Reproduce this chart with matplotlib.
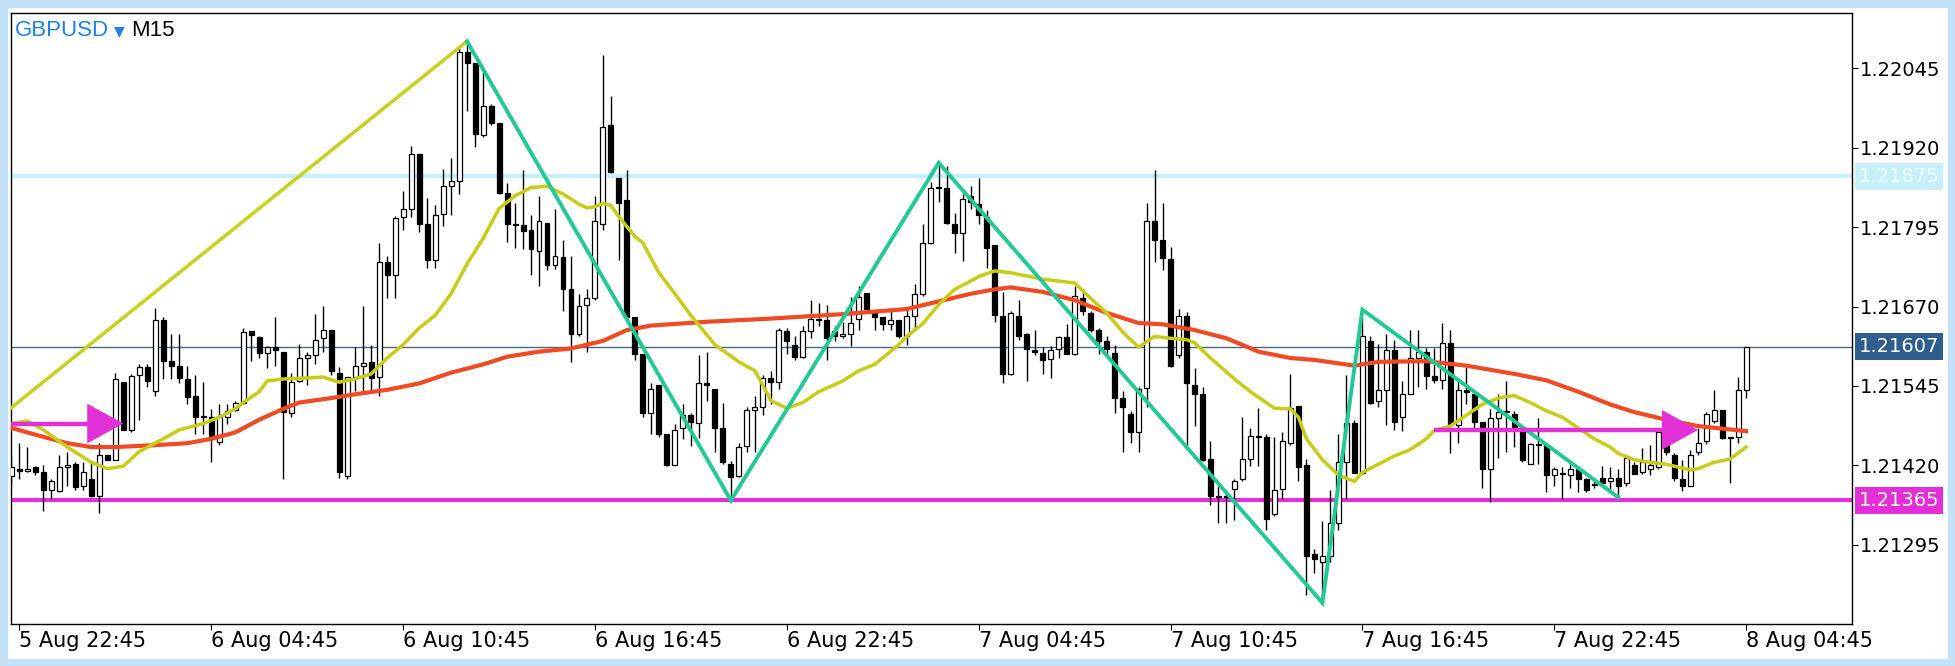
import numpy as np
import pandas as pd
import matplotlib
matplotlib.use("Agg")
import matplotlib.pyplot as plt
import matplotlib.transforms as mtransforms
from matplotlib.patches import Rectangle

# GBPUSD M15 bars, first bar 5 Aug 22:30
start = "2019-08-05 22:30"

opens = [1.21403, 1.21415, 1.21411, 1.21417, 1.21409, 1.21382, 1.21380, 1.21418, 1.21423, 1.21387, 1.21398, 1.21372,
         1.21437, 1.21429, 1.21551, 1.21476, 1.21563, 1.21575, 1.21537, 1.21648, 1.21584, 1.21577, 1.21556, 1.21529,
         1.21497, 1.21496, 1.21457, 1.21497, 1.21507, 1.21519, 1.21631, 1.21622, 1.21597, 1.21607, 1.21599, 1.21502,
         1.21553, 1.21589, 1.21593, 1.21620, 1.21633, 1.21566, 1.21403, 1.21559, 1.21577, 1.21583, 1.21559, 1.21740,
         1.21720, 1.21810, 1.21824, 1.21910, 1.21800, 1.21743, 1.21816, 1.21859, 1.21867, 1.22070, 1.22053, 1.21939,
         1.21986, 1.21959, 1.21849, 1.21800, 1.21798, 1.21790, 1.21757, 1.21802, 1.21735, 1.21748, 1.21698, 1.21626,
         1.21673, 1.21684, 1.21800, 1.21956, 1.21872, 1.21837, 1.21653, 1.21596, 1.21502, 1.21546, 1.21469, 1.21421,
         1.21479, 1.21499, 1.21487, 1.21549, 1.21541, 1.21479, 1.21422, 1.21403, 1.21450, 1.21508, 1.21512, 1.21557,
         1.21551, 1.21631, 1.21610, 1.21591, 1.21631, 1.21650, 1.21649, 1.21631, 1.21623, 1.21626, 1.21651, 1.21691,
         1.21662, 1.21653, 1.21642, 1.21648, 1.21623, 1.21655, 1.21689, 1.21770, 1.21856, 1.21857, 1.21800, 1.21785,
         1.21843, 1.21831, 1.21810, 1.21767, 1.21655, 1.21564, 1.21655, 1.21626, 1.21601, 1.21597, 1.21588, 1.21603,
         1.21622, 1.21596, 1.21684, 1.21660, 1.21633, 1.21616, 1.21597, 1.21526, 1.21501, 1.21472, 1.21542, 1.21805,
         1.21774, 1.21744, 1.21593, 1.21655, 1.21546, 1.21532, 1.21430, 1.21372, 1.21370, 1.21383, 1.21398, 1.21430,
         1.21467, 1.21465, 1.21343, 1.21383, 1.21455, 1.21514, 1.21421, 1.21281, 1.21269, 1.21278, 1.21329, 1.21425,
         1.21487, 1.21408, 1.21616, 1.21521, 1.21539, 1.21601, 1.21496, 1.21532, 1.21589, 1.21599, 1.21561, 1.21554,
         1.21613, 1.21484, 1.21539, 1.21532, 1.21488, 1.21415, 1.21494, 1.21504, 1.21501, 1.21481, 1.21423, 1.21454,
         1.21452, 1.21405, 1.21407, 1.21405, 1.21414, 1.21398, 1.21391, 1.21400, 1.21395, 1.21400, 1.21392, 1.21421,
         1.21410, 1.21415, 1.21417, 1.21472, 1.21437, 1.21398, 1.21388, 1.21441, 1.21459, 1.21490, 1.21508, 1.21463,
         1.21465, 1.21539]
highs = [1.21437, 1.21455, 1.21449, 1.21419, 1.21421, 1.21398, 1.21437, 1.21442, 1.21425, 1.21425, 1.21425, 1.21455,
         1.21437, 1.21566, 1.21551, 1.21564, 1.21579, 1.21579, 1.21668, 1.21653, 1.21626, 1.21626, 1.21576, 1.21563,
         1.21551, 1.21509, 1.21516, 1.21516, 1.21522, 1.21636, 1.21632, 1.21623, 1.21608, 1.21653, 1.21599, 1.21566,
         1.21611, 1.21599, 1.21658, 1.21671, 1.21633, 1.21575, 1.21559, 1.21606, 1.21671, 1.21610, 1.21770, 1.21750,
         1.21812, 1.21852, 1.21922, 1.21910, 1.21841, 1.21829, 1.21886, 1.21903, 1.22078, 1.22085, 1.22053, 1.22042,
         1.21988, 1.21959, 1.21864, 1.21832, 1.21884, 1.21814, 1.21843, 1.21802, 1.21824, 1.21774, 1.21750, 1.21690,
         1.21697, 1.21844, 1.22066, 1.22001, 1.21872, 1.21884, 1.21653, 1.21596, 1.21549, 1.21546, 1.21470, 1.21486,
         1.21516, 1.21502, 1.21593, 1.21599, 1.21541, 1.21519, 1.21427, 1.21455, 1.21512, 1.21529, 1.21563, 1.21569,
         1.21636, 1.21636, 1.21623, 1.21640, 1.21680, 1.21675, 1.21672, 1.21640, 1.21646, 1.21685, 1.21702, 1.21691,
         1.21664, 1.21653, 1.21666, 1.21648, 1.21668, 1.21705, 1.21800, 1.21865, 1.21896, 1.21891, 1.21817, 1.21847,
         1.21859, 1.21872, 1.21821, 1.21767, 1.21693, 1.21663, 1.21680, 1.21628, 1.21633, 1.21606, 1.21608, 1.21624,
         1.21643, 1.21703, 1.21697, 1.21663, 1.21636, 1.21623, 1.21610, 1.21537, 1.21506, 1.21543, 1.21832, 1.21884,
         1.21832, 1.21764, 1.21666, 1.21662, 1.21573, 1.21543, 1.21459, 1.21388, 1.21382, 1.21398, 1.21496, 1.21479,
         1.21510, 1.21469, 1.21465, 1.21472, 1.21564, 1.21514, 1.21430, 1.21288, 1.21333, 1.21382, 1.21469, 1.21563,
         1.21492, 1.21653, 1.21623, 1.21611, 1.21626, 1.21617, 1.21553, 1.21633, 1.21633, 1.21604, 1.21604, 1.21644,
         1.21633, 1.21553, 1.21575, 1.21532, 1.21488, 1.21509, 1.21532, 1.21553, 1.21506, 1.21481, 1.21455, 1.21494,
         1.21452, 1.21417, 1.21417, 1.21422, 1.21415, 1.21400, 1.21396, 1.21419, 1.21417, 1.21415, 1.21435, 1.21425,
         1.21447, 1.21452, 1.21474, 1.21476, 1.21439, 1.21429, 1.21445, 1.21479, 1.21504, 1.21539, 1.21508, 1.21465,
         1.21559, 1.21607]
lows = [1.21388, 1.21398, 1.21410, 1.21405, 1.21348, 1.21368, 1.21378, 1.21388, 1.21382, 1.21382, 1.21370, 1.21345,
        1.21429, 1.21428, 1.21476, 1.21472, 1.21492, 1.21543, 1.21530, 1.21556, 1.21556, 1.21549, 1.21516, 1.21469,
        1.21469, 1.21425, 1.21452, 1.21486, 1.21505, 1.21517, 1.21584, 1.21589, 1.21573, 1.21576, 1.21398, 1.21496,
        1.21551, 1.21546, 1.21579, 1.21599, 1.21563, 1.21400, 1.21398, 1.21537, 1.21537, 1.21536, 1.21529, 1.21683,
        1.21683, 1.21790, 1.21810, 1.21787, 1.21730, 1.21730, 1.21797, 1.21814, 1.21847, 1.21978, 1.21921, 1.21936,
        1.21955, 1.21847, 1.21772, 1.21762, 1.21760, 1.21720, 1.21703, 1.21727, 1.21729, 1.21663, 1.21583, 1.21624,
        1.21599, 1.21680, 1.21790, 1.21880, 1.21743, 1.21651, 1.21586, 1.21496, 1.21469, 1.21465, 1.21419, 1.21420,
        1.21462, 1.21450, 1.21463, 1.21522, 1.21441, 1.21423, 1.21365, 1.21402, 1.21442, 1.21442, 1.21499, 1.21516,
        1.21541, 1.21596, 1.21586, 1.21589, 1.21620, 1.21640, 1.21586, 1.21616, 1.21620, 1.21608, 1.21633, 1.21664,
        1.21633, 1.21633, 1.21633, 1.21620, 1.21610, 1.21636, 1.21687, 1.21768, 1.21834, 1.21800, 1.21754, 1.21742,
        1.21824, 1.21800, 1.21731, 1.21646, 1.21549, 1.21562, 1.21617, 1.21553, 1.21593, 1.21564, 1.21557, 1.21589,
        1.21595, 1.21593, 1.21656, 1.21630, 1.21595, 1.21593, 1.21502, 1.21442, 1.21455, 1.21442, 1.21512, 1.21740,
        1.21727, 1.21575, 1.21589, 1.21452, 1.21482, 1.21427, 1.21358, 1.21329, 1.21329, 1.21335, 1.21395, 1.21419,
        1.21419, 1.21318, 1.21341, 1.21368, 1.21452, 1.21395, 1.21217, 1.21251, 1.21202, 1.21269, 1.21318, 1.21368,
        1.21408, 1.21406, 1.21516, 1.21512, 1.21484, 1.21476, 1.21474, 1.21532, 1.21543, 1.21541, 1.21550, 1.21541,
        1.21439, 1.21455, 1.21516, 1.21476, 1.21385, 1.21362, 1.21432, 1.21442, 1.21449, 1.21425, 1.21422, 1.21422,
        1.21378, 1.21388, 1.21368, 1.21385, 1.21378, 1.21378, 1.21385, 1.21390, 1.21383, 1.21370, 1.21388, 1.21406,
        1.21407, 1.21405, 1.21414, 1.21437, 1.21395, 1.21380, 1.21388, 1.21437, 1.21454, 1.21487, 1.21461, 1.21392,
        1.21455, 1.21526]
closes = [1.21417, 1.21411, 1.21415, 1.21409, 1.21382, 1.21396, 1.21417, 1.21420, 1.21386, 1.21409, 1.21372, 1.21437,
          1.21429, 1.21556, 1.21476, 1.21561, 1.21575, 1.21553, 1.21648, 1.21585, 1.21576, 1.21557, 1.21528, 1.21497,
          1.21496, 1.21462, 1.21496, 1.21506, 1.21519, 1.21630, 1.21625, 1.21597, 1.21606, 1.21601, 1.21504, 1.21551,
          1.21589, 1.21593, 1.21618, 1.21633, 1.21569, 1.21409, 1.21559, 1.21577, 1.21581, 1.21557, 1.21740, 1.21720,
          1.21809, 1.21824, 1.21910, 1.21800, 1.21743, 1.21814, 1.21859, 1.21867, 1.22070, 1.22053, 1.21941, 1.21986,
          1.21959, 1.21849, 1.21800, 1.21798, 1.21789, 1.21760, 1.21804, 1.21735, 1.21749, 1.21698, 1.21626, 1.21671,
          1.21683, 1.21804, 1.21953, 1.21881, 1.21832, 1.21653, 1.21596, 1.21502, 1.21541, 1.21469, 1.21421, 1.21476,
          1.21499, 1.21489, 1.21549, 1.21547, 1.21479, 1.21425, 1.21402, 1.21449, 1.21508, 1.21512, 1.21557, 1.21551,
          1.21633, 1.21616, 1.21591, 1.21631, 1.21650, 1.21648, 1.21620, 1.21623, 1.21626, 1.21644, 1.21685, 1.21666,
          1.21653, 1.21643, 1.21648, 1.21623, 1.21655, 1.21690, 1.21770, 1.21856, 1.21857, 1.21802, 1.21785, 1.21839,
          1.21834, 1.21814, 1.21762, 1.21656, 1.21564, 1.21660, 1.21624, 1.21603, 1.21599, 1.21586, 1.21601, 1.21622,
          1.21596, 1.21687, 1.21663, 1.21633, 1.21616, 1.21603, 1.21526, 1.21512, 1.21472, 1.21541, 1.21804, 1.21774,
          1.21747, 1.21577, 1.21655, 1.21549, 1.21532, 1.21429, 1.21372, 1.21370, 1.21372, 1.21396, 1.21430, 1.21467,
          1.21465, 1.21336, 1.21382, 1.21459, 1.21510, 1.21417, 1.21278, 1.21273, 1.21278, 1.21329, 1.21425, 1.21487,
          1.21408, 1.21623, 1.21519, 1.21539, 1.21601, 1.21488, 1.21532, 1.21589, 1.21599, 1.21561, 1.21554, 1.21613,
          1.21484, 1.21539, 1.21535, 1.21489, 1.21415, 1.21494, 1.21504, 1.21506, 1.21481, 1.21429, 1.21454, 1.21452,
          1.21405, 1.21414, 1.21407, 1.21415, 1.21398, 1.21382, 1.21389, 1.21392, 1.21400, 1.21388, 1.21432, 1.21407,
          1.21425, 1.21421, 1.21472, 1.21441, 1.21400, 1.21387, 1.21437, 1.21455, 1.21501, 1.21508, 1.21463, 1.21465,
          1.21539, 1.21607]

# moving averages (bar number, value)
ma_fast_bar = [0, 2, 4, 7, 10, 12, 14, 16, 19, 21, 24, 26, 28, 29, 31, 32, 34, 36, 39, 41, 43, 45, 47, 49, 51, 53,
               55, 57, 59, 61, 63, 65, 67, 69, 71, 72, 73, 74, 75, 76, 78, 79, 81, 83, 85, 88, 91, 93, 94, 95, 97,
               99, 101, 104, 106, 108, 111, 112, 114, 116, 118, 120, 121, 123, 125, 127, 129, 131, 133, 135, 137,
               139, 141, 143, 145, 147, 148, 150, 153, 155, 158, 160, 161, 162, 164, 166, 168, 169, 171, 173, 175,
               177, 178, 180, 182, 184, 186, 188, 190, 192, 194, 196, 198, 200, 201, 203, 205, 207, 210, 211, 213,
               215, 217]
ma_fast = [1.21486, 1.21490, 1.21476, 1.21449, 1.21425, 1.21415, 1.21419, 1.21442, 1.21462, 1.21476, 1.21486,
           1.21496, 1.21509, 1.21519, 1.21536, 1.21553, 1.21556, 1.21557, 1.21559, 1.21551, 1.21556, 1.21564,
           1.21589, 1.21610, 1.21636, 1.21656, 1.21690, 1.21737, 1.21777, 1.21824, 1.21844, 1.21857, 1.21859,
           1.21847, 1.21831, 1.21825, 1.21827, 1.21832, 1.21829, 1.21811, 1.21780, 1.21770, 1.21723, 1.21690,
           1.21656, 1.21610, 1.21583, 1.21569, 1.21546, 1.21522, 1.21510, 1.21519, 1.21536, 1.21553, 1.21569,
           1.21579, 1.21610, 1.21623, 1.21643, 1.21673, 1.21697, 1.21710, 1.21717, 1.21726, 1.21723, 1.21718,
           1.21713, 1.21710, 1.21707, 1.21683, 1.21660, 1.21630, 1.21606, 1.21623, 1.21620, 1.21618, 1.21613,
           1.21589, 1.21556, 1.21536, 1.21510, 1.21509, 1.21496, 1.21462, 1.21429, 1.21405, 1.21395, 1.21409,
           1.21422, 1.21435, 1.21445, 1.21462, 1.21475, 1.21482, 1.21499, 1.21516, 1.21526, 1.21530, 1.21519,
           1.21506, 1.21496, 1.21479, 1.21462, 1.21449, 1.21439, 1.21429, 1.21425, 1.21422, 1.21413, 1.21415,
           1.21425, 1.21430, 1.21449]
ma_slow_bar = [0, 4, 7, 10, 13, 18, 22, 25, 28, 31, 34, 36, 40, 43, 47, 51, 55, 59, 62, 66, 70, 74, 77, 80, 87, 95,
               104, 112, 115, 120, 123, 125, 129, 133, 137, 141, 144, 148, 152, 156, 160, 163, 168, 171, 177, 182,
               188, 192, 196, 200, 203, 207, 211, 217]
ma_slow = [1.21479, 1.21465, 1.21455, 1.21449, 1.21449, 1.21452, 1.21455, 1.21462, 1.21472, 1.21492, 1.21509,
           1.21519, 1.21526, 1.21532, 1.21539, 1.21549, 1.21566, 1.21579, 1.21591, 1.21599, 1.21604, 1.21616,
           1.21633, 1.21640, 1.21646, 1.21651, 1.21658, 1.21666, 1.21675, 1.21690, 1.21697, 1.21700, 1.21693,
           1.21680, 1.21660, 1.21644, 1.21642, 1.21633, 1.21620, 1.21599, 1.21589, 1.21586, 1.21577, 1.21583,
           1.21584, 1.21577, 1.21564, 1.21554, 1.21536, 1.21516, 1.21504, 1.21492, 1.21482, 1.21474]

# drawn objects
zigzag_time = ["2019-08-06 12:45", "2019-08-06 21:00", "2019-08-07 03:30",
               "2019-08-07 15:30", "2019-08-07 16:45", "2019-08-08 00:45"]
zigzag_price = [1.22087, 1.21365, 1.21896, 1.21204, 1.21665, 1.21370]
trend_time = ["2019-08-05 22:30", "2019-08-06 12:45"]
trend_price = [1.21511, 1.22087]
arrow_from = ["2019-08-05 22:30", "2019-08-07 19:00"]
arrow_to = ["2019-08-06 02:00", "2019-08-08 03:15"]
arrow_price = [1.21486, 1.21476]
support = 1.21365
resistance = 1.21875
last_price = 1.21607
yticks = [1.21295, 1.21420, 1.21545, 1.21670, 1.21795, 1.21920, 1.22045]

times = pd.date_range(start, periods=len(opens), freq="15min")


def bar(t):
    return times.get_loc(pd.Timestamp(t))


W, H = 1955, 666
fig = plt.figure(figsize=(W / 100, H / 100), dpi=100)
ax = fig.add_axes([10.7 / W, 1 - 623.6 / H, (1852 - 10.7) / W, (623.6 - 13) / H])

o = np.array(opens)
h = np.array(highs)
l = np.array(lows)
c = np.array(closes)
x = np.arange(len(o))
up = c >= o

# horizontal levels
ax.axhline(resistance, color="#c6eff8", lw=3, zorder=1)
ax.axhline(support, color="#e22fd6", lw=3, zorder=1)
ax.axhline(last_price, color="#4f6680", lw=1, zorder=1)

# candles
ax.vlines(x, l, h, color="black", lw=1, zorder=2)
ax.bar(x, np.maximum(np.abs(c - o), 0.000012), bottom=np.minimum(o, c), width=0.62,
       color=np.where(up, "white", "black"), edgecolor="black", linewidth=0.9, zorder=3)

# moving averages
ax.plot(ma_slow_bar, ma_slow, color="#f04a24", lw=3, zorder=4, solid_joinstyle="round")
ax.plot(ma_fast_bar, ma_fast, color="#c9cc16", lw=2.5, zorder=4, solid_joinstyle="round")

# trendline and zigzag
ax.plot([bar(t) for t in trend_time], trend_price, color="#c5d21e", lw=2.5, zorder=5)
ax.plot([bar(t) for t in zigzag_time], zigzag_price, color="#22c896", lw=2.8, zorder=5,
        solid_joinstyle="miter")

# magenta arrows
for t0, t1, p in zip(arrow_from, arrow_to, arrow_price):
    ax.plot([bar(t0), bar(t1) - 3], [p, p], color="#e22fd6", lw=3.2, zorder=6,
            solid_capstyle="butt")
    ax.annotate("", xy=(bar(t1), p), xytext=(bar(t1) - 3.6, p),
                arrowprops=dict(arrowstyle="-|>,head_length=1.0,head_width=0.55",
                                mutation_scale=26, color="#e22fd6", lw=0,
                                shrinkA=0, shrinkB=0), zorder=6)

ax.set_xlim(-0.09, 230.25)
ax.set_ylim(1.211714, 1.221315)

# axes styling
for s in ax.spines.values():
    s.set_color("black")
    s.set_linewidth(1)
ax.yaxis.tick_right()
ax.set_yticks(yticks)
ax.set_yticklabels([f"{v:.5f}" for v in yticks])
ax.tick_params(axis="y", direction="out", length=4, width=0.8, pad=1.5, labelsize=14, colors="black")

tick_bars = list(range(1, len(times), 24))
ax.set_xticks(tick_bars)
ax.set_xticklabels([f"{times[i].day} {times[i]:%b %H:%M}" for i in tick_bars])
ax.tick_params(axis="x", direction="out", length=4, width=0.8, pad=1, labelsize=15)
for lab in ax.get_xticklabels():
    lab.set_ha("left")

# price tags on the right scale
tr = mtransforms.blended_transform_factory(ax.transAxes, ax.transData)
for p, fc, tc in [(resistance, "#c6eff8", "#eefcff"), (last_price, "#2f5d8c", "white"),
                  (support, "#e22fd6", "white")]:
    ax.text(1.0036, p, f"{p:.5f}", transform=tr, ha="left", va="center", fontsize=14, color=tc,
            bbox=dict(boxstyle="square,pad=0.2", fc=fc, ec="none"), clip_on=False, zorder=7)

# symbol caption
cap = dict(family=["Liberation Sans", "DejaVu Sans"], fontsize=16, ha="left", va="center")
fig.text(15 / W, 1 - 30 / H, "GBPUSD", color="#1f80e8", **cap)
fig.text(114 / W, 1 - 31 / H, "▼", color="#1f80e8", fontsize=10, ha="left", va="center")
fig.text(131 / W, 1 - 30 / H, "M15", color="black", **cap)

# light blue frame around the picture
fig.patches.append(Rectangle((0, 0), 1, 1, transform=fig.transFigure, fill=False,
                             ec="#c3e2f7", lw=11, zorder=10))

fig.savefig("out.png", dpi=100, facecolor="white")
